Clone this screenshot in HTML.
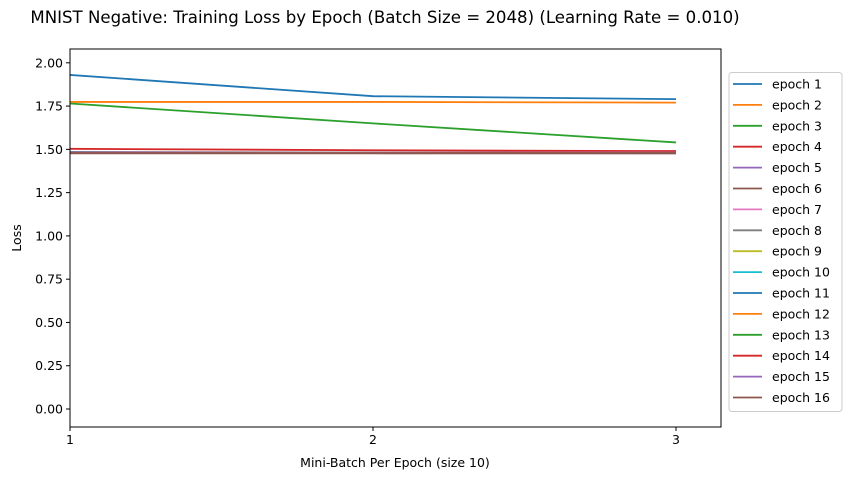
<!DOCTYPE html>
<html><head><meta charset="utf-8"><style>
body{margin:0;background:#fff;}
svg{display:block;font-family:"DejaVu Sans","Liberation Sans",sans-serif;}
</style></head><body>
<svg id="c" width="852" height="480"></svg>
<script>
const categories=[1,2,3];
const seriesNames=["epoch 1","epoch 2","epoch 3","epoch 4","epoch 5","epoch 6","epoch 7","epoch 8","epoch 9","epoch 10","epoch 11","epoch 12","epoch 13","epoch 14","epoch 15","epoch 16"];
const s1=[1.93,1.807,1.79];
const s2=[1.774,1.774,1.77];
const s3=[1.765,1.65,1.54];
const s4=[1.503,1.495,1.49];
const s5=[1.485,1.482,1.482];
const s6=[1.482,1.48,1.48];
const s7=[1.481,1.48,1.48];
const s8=[1.482,1.481,1.48];
const s9=[1.48,1.479,1.479];
const s10=[1.48,1.479,1.479];
const s11=[1.48,1.479,1.479];
const s12=[1.479,1.479,1.478];
const s13=[1.479,1.478,1.478];
const s14=[1.479,1.478,1.478];
const s15=[1.478,1.478,1.477];
const s16=[1.477,1.477,1.477];
const yTicks=[0,0.25,0.5,0.75,1.0,1.25,1.5,1.75,2.0];
const xTicks=[1,2,3];
const series=[s1,s2,s3,s4,s5,s6,s7,s8,s9,s10,s11,s12,s13,s14,s15,s16];
const colors=["#1f77b4","#ff7f0e","#2ca02c","#d62728","#9467bd","#8c564b","#e377c2","#7f7f7f","#bcbd22","#17becf"];
const L=70,R=721,T=49,B=427;
const X=v=>L+(v-1)/(3-1)*(676-L);
const Y=v=>409-v/2*(409-62.8);
const svg=document.getElementById('c');
const NS="http://www.w3.org/2000/svg";
function mk(t,a,p){const e=document.createElementNS(NS,t);for(const k in a)e.setAttribute(k,a[k]);(p||svg).appendChild(e);return e;}
let e;
e=mk('text',{x:385,y:23,'text-anchor':'middle','font-size':16.6,fill:'#000'});e.textContent="MNIST Negative: Training Loss by Epoch (Batch Size = 2048) (Learning Rate = 0.010)";


series.forEach((s,i)=>{
 const p=mk('polyline',{points:s.map((v,j)=>X(categories[j])+','+Y(v)).join(' '),fill:'none',stroke:colors[i%10],'stroke-width':1.8});
 
 
});
e=mk('rect',{x:L,y:T,width:R-L,height:B-T,fill:'none',stroke:'#000','stroke-width':1});


yTicks.forEach(v=>{
 mk('line',{x1:L-4,x2:L,y1:Y(v),y2:Y(v),stroke:'#000'});
 const t=mk('text',{x:L-7,y:Y(v)+4.5,'text-anchor':'end','font-size':12.5,fill:'#000'});t.textContent=v.toFixed(2);
 
 
});
xTicks.forEach(v=>{
 mk('line',{x1:X(v),x2:X(v),y1:B,y2:B+4,stroke:'#000'});
 const t=mk('text',{x:X(v),y:B+17,'text-anchor':'middle','font-size':12.5,fill:'#000'});t.textContent=v;
 
 
});
e=mk('text',{x:395,y:467,'text-anchor':'middle','font-size':12.5,fill:'#000'});e.textContent="Mini-Batch Per Epoch (size 10)";


e=mk('text',{x:0,y:0,'text-anchor':'middle','font-size':12.5,fill:'#000',transform:'translate(21,238) rotate(-90)'});e.textContent="Loss";


const lg=mk('g',{});


mk('rect',{x:729,y:72.5,width:113,height:339,rx:3,fill:'#fff',stroke:'#ccc'},lg);
seriesNames.forEach((n,i)=>{
 const y=84+i*20.9;
 const g=mk('g',{},lg);
 
 
 mk('line',{x1:733,x2:762,y1:y,y2:y,stroke:colors[i%10],'stroke-width':1.8},g);
 const t=mk('text',{x:772,y:y+4.5,'font-size':12.5,fill:'#000'},g);t.textContent=n;
});
</script>
</body></html>
